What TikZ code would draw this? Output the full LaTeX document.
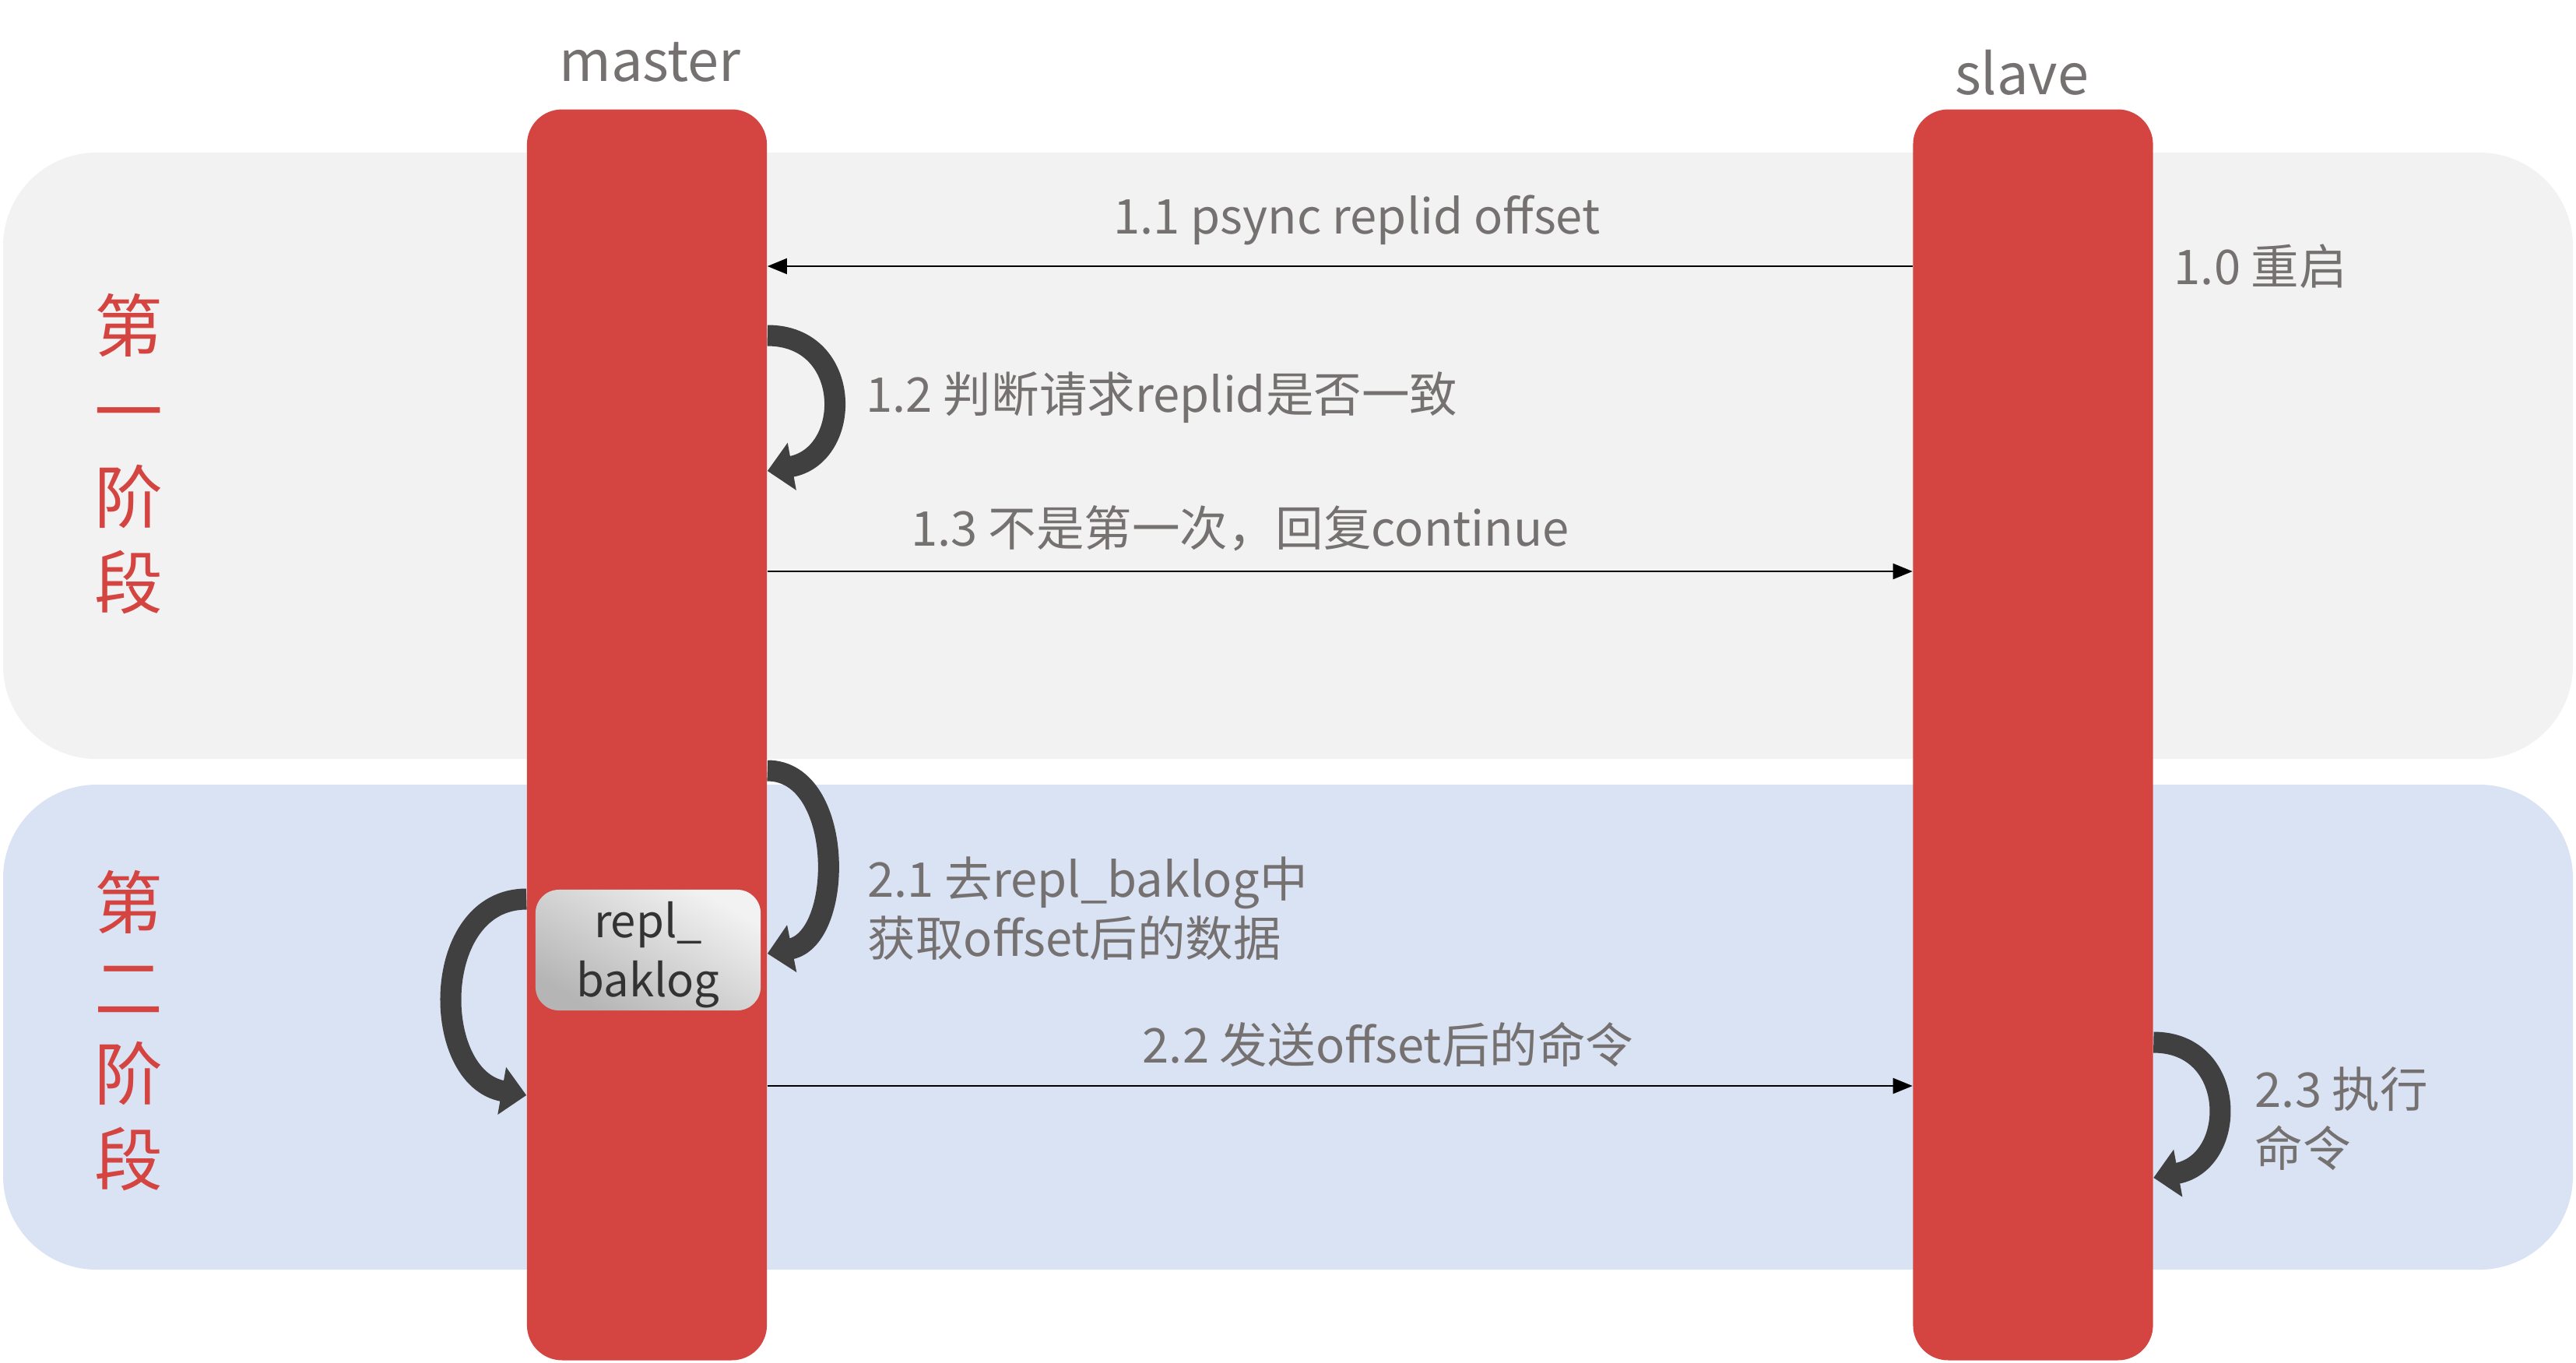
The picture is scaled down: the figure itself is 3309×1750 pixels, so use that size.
\documentclass[tikz,border=0pt]{standalone}
\usepackage{fontspec}
\setmainfont{Noto Sans CJK SC}
\usetikzlibrary{arrows.meta,calc}
\definecolor{bandA}{HTML}{F2F2F2}
\definecolor{bandB}{HTML}{DAE3F3}
\definecolor{barred}{HTML}{D44542}
\definecolor{txt}{HTML}{767171}
\definecolor{loopc}{HTML}{404040}
\definecolor{boxtxt}{HTML}{333333}
\begin{document}
\begin{tikzpicture}[x=0.01cm,y=-0.01cm,
  lbl/.style={text=txt,font=\fontsize{17.5}{21.6}\selectfont,inner sep=0},
  ttl/.style={text=txt,font=\fontsize{20.5}{24}\selectfont,inner sep=0},
  bar/.style={fill=barred,draw=none,rounded corners=0.45cm,minimum width=3.08cm,minimum height=16.06cm,inner sep=0},
  msg/.style={draw=black,line width=0.02cm,-{Triangle[length=0.25cm,width=0.2cm]}},
  loop/.style={draw=loopc,line width=0.27cm,-{Triangle[length=0.32cm,width=0.6cm]}},
  phase/.style={text=barred,font=\fontsize{25}{31.3}\selectfont,align=center,inner sep=0},
  logbox/.style={rounded corners=0.3cm,minimum width=2.89cm,minimum height=1.55cm,inner sep=0,
     top color=gray!10,bottom color=gray!58,shading angle=-30},
  boxlbl/.style={text=boxtxt,font=\fontsize{16.5}{21.5}\selectfont,align=center,inner sep=0}]
\useasboundingbox (0,0) rectangle (3309,1750);
\fill[bandA, rounded corners=1.2cm] (4,196) rectangle (3305,975);
\fill[bandB, rounded corners=1.2cm] (4,1008) rectangle (3305,1631);
\node[bar] (m) at (831,944) {};
\node[bar] (s) at (2611.5,944) {};
\node[ttl] (mt) at (835,80) {master};
\node[ttl] (st) at (2597,93) {slave};
\node[phase] (p1) at (165,583) {第\\一\\阶\\段};
\node[phase] (p2) at (165,1324) {第\\二\\阶\\段};
% phase 1
\draw[msg] (s.west |- 0,342) -- (m.east |- 0,342);
\node[lbl] (t11) at (1743,283) {1.1 psync replid offset};
\node[lbl,anchor=west] (t10) at (2792,342) {1.0 重启};
\draw[loop] (m.east |- 0,431) .. controls (1096,431) and (1096,585) .. (m.east |- 0,605);
\node[lbl,anchor=west] (t12) at (1112,511) {1.2 判断请求replid是否一致};
\draw[msg] (m.east |- 0,734) -- (s.west |- 0,734);
\node[lbl] (t13) at (1593,679) {1.3 不是第一次，回复continue};
% phase 2
\draw[loop] (m.east |- 0,990) .. controls (1085,990) and (1085,1205) .. (m.east |- 0,1225);
\node[lbl,anchor=west,align=left] (t21) at (1114,1167) {2.1 去repl\_baklog中\\获取offset后的数据};
\node[logbox] (rb) at (832.5,1220.5) {};
\node[boxlbl] (rbt) at ($(rb.center)+(0,6)$) {repl\_\\baklog};
\draw[loop] (m.west |- 0,1155) .. controls (552,1155) and (552,1385) .. (m.west |- 0,1407);
\draw[msg] (m.east |- 0,1395) -- (s.west |- 0,1395);
\node[lbl] (t22) at (1783,1342) {2.2 发送offset后的命令};
\draw[loop] (s.east |- 0,1339) .. controls (2875,1339) and (2875,1493) .. (s.east |- 0,1513);
\node[lbl,anchor=west,align=left] (t23) at (2896,1437) {2.3 执行\\命令};
\end{tikzpicture}
\end{document}
